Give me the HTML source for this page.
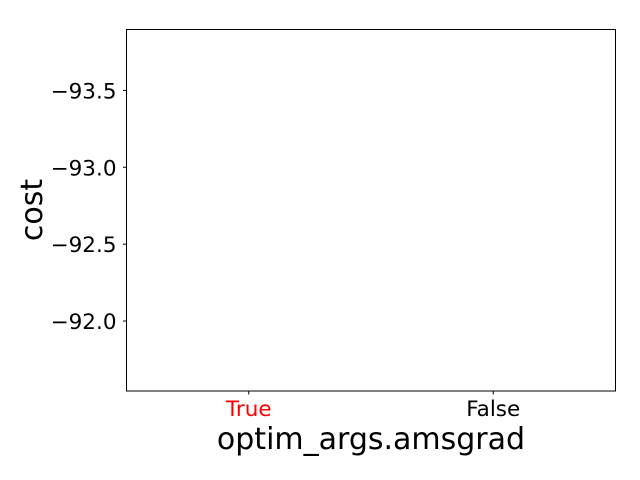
<!DOCTYPE html>
<html>
<head>
<meta charset="utf-8">
<style>
  html, body { margin: 0; padding: 0; background: #fff; }
  svg { display: block; font-family: "DejaVu Sans", "Liberation Sans", sans-serif; }
</style>
</head>
<body>
<svg id="chart" width="640" height="480" viewBox="0 0 640 480">
  <rect x="0" y="0" width="640" height="480" fill="#fff"/>
  <g id="plot"></g>
  <rect x="126.5" y="29.5" width="489" height="361.5" fill="none" stroke="#000" stroke-width="1"/>
  <text x="371" y="449" font-size="30" text-anchor="middle">optim_args.amsgrad</text>
  <text transform="translate(42,210) rotate(-90)" font-size="30" text-anchor="middle">cost</text>
</svg>
<script>
const categories = ["True", "False"];
const categoryColors = ["#ff0000", "#000000"];
const yTicks = [-93.5, -93.0, -92.5, -92.0];
const yTickLabels = ["\u221293.5", "\u221293.0", "\u221292.5", "\u221292.0"];
const costValues = [];

const L = 126.5, R = 615.5, T = 29.5, B = 391;
const yMin = -93.896, yMax = -91.545; // inverted axis: yMin at top
function yScale(v) { return T + (v - yMin) / (yMax - yMin) * (B - T); }
function xScale(i) { return L + (i + 0.5) / categories.length * (R - L); }

const svg = document.getElementById('chart');
const NS = 'http://www.w3.org/2000/svg';

yTicks.forEach((v, i) => {
  const y = yScale(v);
  const tick = document.createElementNS(NS, 'line');
  tick.setAttribute('x1', L - 3.5); tick.setAttribute('x2', L);
  tick.setAttribute('y1', y); tick.setAttribute('y2', y);
  tick.setAttribute('stroke', '#000');
  
  
  svg.appendChild(tick);
  const t = document.createElementNS(NS, 'text');
  t.setAttribute('x', L - 10); t.setAttribute('y', y + 8);
  t.setAttribute('font-size', '21.5'); t.setAttribute('text-anchor', 'end');
  t.textContent = yTickLabels[i];
  
  
  svg.appendChild(t);
});

categories.forEach((c, i) => {
  const x = xScale(i);
  const tick = document.createElementNS(NS, 'line');
  tick.setAttribute('x1', x); tick.setAttribute('x2', x);
  tick.setAttribute('y1', B); tick.setAttribute('y2', B + 3.5);
  tick.setAttribute('stroke', '#000');
  
  
  svg.appendChild(tick);
  const t = document.createElementNS(NS, 'text');
  t.setAttribute('x', x); t.setAttribute('y', B + 25);
  t.setAttribute('font-size', '21.5'); t.setAttribute('text-anchor', 'middle');
  t.setAttribute('fill', categoryColors[i]);
  t.textContent = c;
  
  
  svg.appendChild(t);
});

const plot = document.getElementById('plot');
costValues.forEach((v, i) => {
  const p = document.createElementNS(NS, 'circle');
  p.setAttribute('cx', xScale(i)); p.setAttribute('cy', yScale(v));
  p.setAttribute('r', 3); p.setAttribute('fill', '#1f77b4');
  
  
  plot.appendChild(p);
});
</script>
</body>
</html>
